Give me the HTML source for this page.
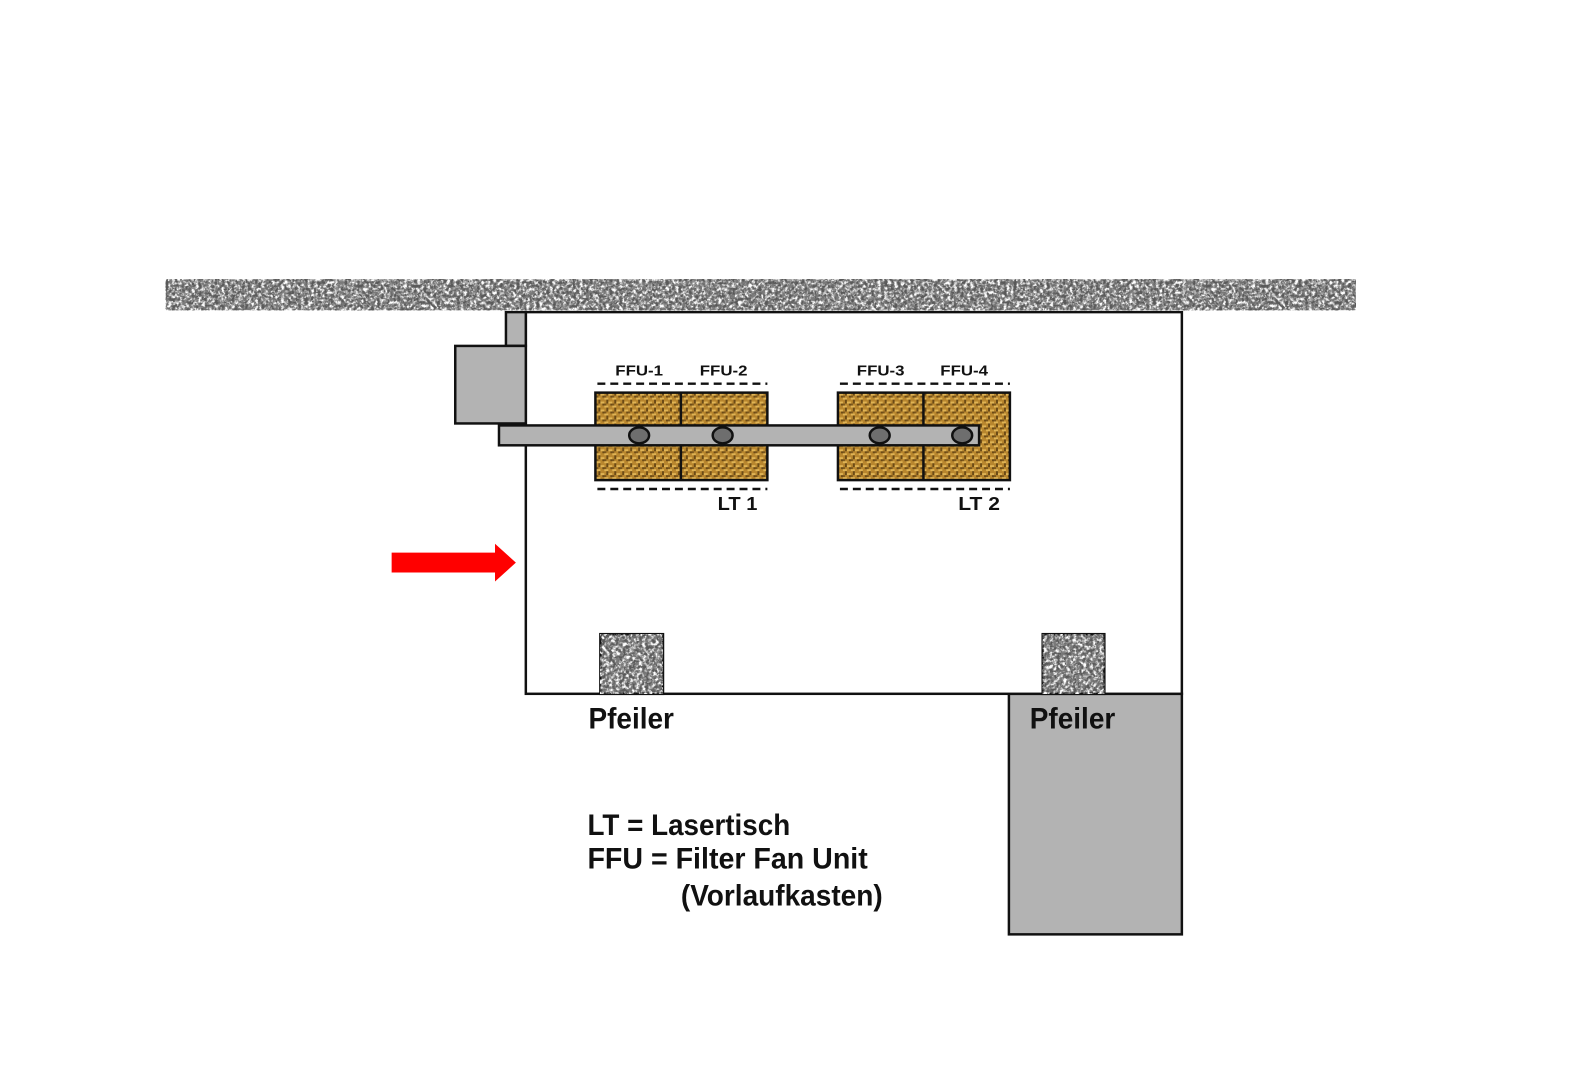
<!DOCTYPE html>
<html><head><meta charset="utf-8"><style>
html,body{margin:0;padding:0;background:#fff;}
svg{display:block;}
text{font-family:"Liberation Sans",sans-serif;font-weight:bold;fill:#111;}
</style></head><body>
<svg width="1588" height="1080" viewBox="0 0 1588 1080" xmlns="http://www.w3.org/2000/svg">
<defs>
<filter id="granite" x="0" y="0" width="100%" height="100%">
<feTurbulence type="fractalNoise" baseFrequency="0.3" numOctaves="3" seed="4"/>
<feColorMatrix type="matrix" values="0 0 0 0 1  0 0 0 0 1  0 0 0 0 1  4 0 0 0 -1.6"/>
</filter>
<filter id="granite2" x="0" y="0" width="100%" height="100%">
<feTurbulence type="fractalNoise" baseFrequency="0.3" numOctaves="3" seed="9"/>
<feColorMatrix type="matrix" values="0 0 0 0 0.1  0 0 0 0 0.1  0 0 0 0 0.1  4 0 0 0 -1.7"/>
</filter>
<pattern id="weave" width="8" height="8" patternUnits="userSpaceOnUse">
<rect width="8" height="8" fill="#b8862e"/>
<rect x="0" y="0" width="4" height="2" fill="#e0b455"/>
<rect x="4" y="4" width="4" height="2" fill="#e0b455"/>
<rect x="2" y="2" width="2" height="4" fill="#6b4a16"/>
<rect x="6" y="6" width="2" height="2" fill="#6b4a16"/>
<rect x="0" y="6" width="2" height="2" fill="#7a561c"/>
</pattern>
</defs>
<g transform="scale(0.994)">
<!-- ceiling -->
<rect x="167" y="281" width="1197" height="31" fill="#7a7a7a"/>
<rect x="167" y="281" width="1197" height="31" fill="#000" filter="url(#granite)"/>
<rect x="167" y="281" width="1197" height="31" fill="#000" filter="url(#granite2)"/>

<!-- lower grey box -->
<rect x="1015" y="698" width="174" height="242" fill="#b3b3b3" stroke="#111" stroke-width="2.5"/>

<!-- room -->
<rect x="529" y="314" width="660" height="384" fill="#fff" stroke="#111" stroke-width="2.5"/>

<!-- duct -->
<rect x="509" y="314" width="20" height="34" fill="#b3b3b3" stroke="#111" stroke-width="2.5"/>
<rect x="458" y="348" width="71" height="78" fill="#b3b3b3" stroke="#111" stroke-width="2.5"/>

<!-- FFU blocks -->
<rect x="599" y="395" width="173" height="88" fill="url(#weave)" stroke="#111" stroke-width="2.5"/>
<line x1="685" y1="395" x2="685" y2="483" stroke="#111" stroke-width="2.5"/>
<rect x="843" y="395" width="173" height="88" fill="url(#weave)" stroke="#111" stroke-width="2.5"/>
<line x1="929" y1="395" x2="929" y2="483" stroke="#111" stroke-width="2.5"/>

<!-- dashed -->
<g stroke="#111" stroke-width="2.5" stroke-dasharray="8,5" fill="none">
<line x1="601" y1="386" x2="772" y2="386"/>
<line x1="601" y1="492" x2="772" y2="492"/>
<line x1="845" y1="386" x2="1016" y2="386"/>
<line x1="845" y1="492" x2="1016" y2="492"/>
</g>

<!-- bar -->
<rect x="502" y="428" width="483" height="20" fill="#b3b3b3" stroke="#111" stroke-width="2.5"/>
<g fill="#6e6e6e" stroke="#111" stroke-width="2.5">
<ellipse cx="643" cy="438" rx="10" ry="8"/>
<ellipse cx="727" cy="438" rx="10" ry="8"/>
<ellipse cx="885" cy="438" rx="10" ry="8"/>
<ellipse cx="968" cy="438" rx="10" ry="8"/>
</g>

<!-- labels -->
<g font-size="15">
<text x="619" y="378" textLength="48" lengthAdjust="spacingAndGlyphs">FFU-1</text>
<text x="704" y="378" textLength="48" lengthAdjust="spacingAndGlyphs">FFU-2</text>
<text x="862" y="378" textLength="48" lengthAdjust="spacingAndGlyphs">FFU-3</text>
<text x="946" y="378" textLength="48" lengthAdjust="spacingAndGlyphs">FFU-4</text>
</g>
<g font-size="19">
<text x="722" y="513" textLength="40" lengthAdjust="spacingAndGlyphs">LT 1</text>
<text x="964" y="513" textLength="42" lengthAdjust="spacingAndGlyphs">LT 2</text>
</g>

<!-- arrow -->
<polygon points="394,556 498,556 498,547 519,566 498,585 498,576 394,576" fill="#ff0000"/>

<!-- pillars -->
<rect x="604" y="638" width="63" height="60" fill="#7a7a7a" stroke="#111" stroke-width="2.5"/>
<rect x="604" y="638" width="63" height="60" fill="#000" filter="url(#granite)"/>
<rect x="604" y="638" width="63" height="60" fill="#000" filter="url(#granite2)"/>
<rect x="1049" y="638" width="62" height="60" fill="#7a7a7a" stroke="#111" stroke-width="2.5"/>
<rect x="1049" y="638" width="62" height="60" fill="#000" filter="url(#granite)"/>
<rect x="1049" y="638" width="62" height="60" fill="#000" filter="url(#granite2)"/>

<g font-size="30">
<text x="592" y="733" textLength="86" lengthAdjust="spacingAndGlyphs">Pfeiler</text>
<text x="1036" y="733" textLength="86" lengthAdjust="spacingAndGlyphs">Pfeiler</text>
<text x="591" y="840" textLength="204" lengthAdjust="spacingAndGlyphs">LT = Lasertisch</text>
<text x="591" y="874" textLength="282" lengthAdjust="spacingAndGlyphs">FFU = Filter Fan Unit</text>
<text x="685" y="911" textLength="203" lengthAdjust="spacingAndGlyphs">(Vorlaufkasten)</text>
</g>
</g>
</svg>
</body></html>
